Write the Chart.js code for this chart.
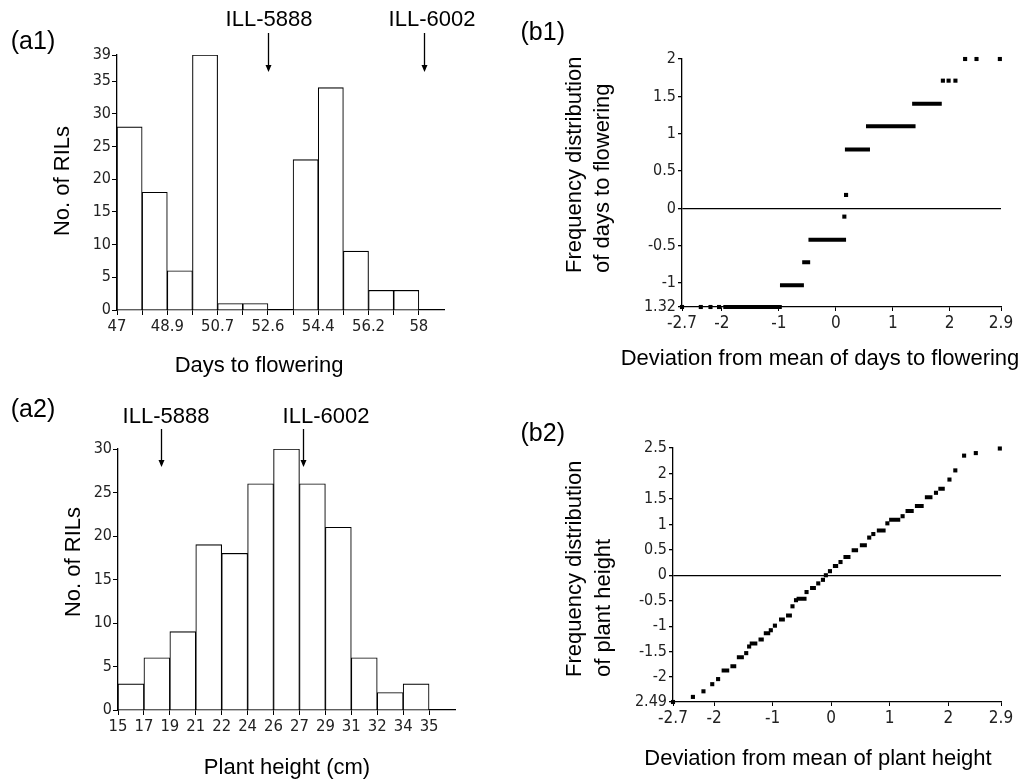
<!DOCTYPE html>
<html>
<head>
<meta charset="utf-8">
<script src="https://cdn.jsdelivr.net/npm/chart.js@4.4.1/dist/chart.umd.min.js"></script>
<style>
  body { margin: 0; background: #fff; }
  .wrap { position: relative; width: 1029px; height: 784px; }
  canvas { position: absolute; }
</style>
</head>
<body>
<div class="wrap">
  <canvas id="a1" width="500" height="390" style="left:0;top:0"></canvas>
  <canvas id="a2" width="500" height="394" style="left:0;top:390px"></canvas>
  <canvas id="b1" width="529" height="390" style="left:500px;top:0"></canvas>
  <canvas id="b2" width="529" height="394" style="left:500px;top:390px"></canvas>
</div>
<script>
// (a1) days to flowering histogram
const flowerCounts = [28, 18, 6, 39, 1, 1, 0, 23, 34, 9, 3, 3];
const flowerTickLabels = ['47', '', '48.9', '', '50.7', '', '52.6', '', '54.4', '', '56.2', '', '58'];
const flowerYTicks = [0, 5, 10, 15, 20, 25, 30, 35, 39];
const flowerParents = [6.0, 12.2]; // ILL-5888, ILL-6002 (bin units)

// (a2) plant height histogram
const heightCounts = [3, 6, 9, 19, 18, 26, 30, 26, 21, 6, 2, 3];
const heightTickLabels = ['15', '17', '19', '21', '22', '24', '26', '27', '29', '31', '32', '34', '35'];
const heightYTicks = [0, 5, 10, 15, 20, 25, 30];
const heightParents = [1.66, 7.15];

// (b1) normal plot, days to flowering
const flowerQXTicks = [-2.7, -2, -1, 0, 1, 2, 2.9];
const flowerQYTicks = [2, 1.5, 1, 0.5, 0, -0.5, -1, -1.32];
const flowerQYLabels = ['2', '1.5', '1', '0.5', '0', '-0.5', '-1', '1.32'];
const flowerRunY  = [-1.32, -1.03, -0.72, -0.42, 0.79, 1.10, 1.40];
const flowerRunX0 = [-1.975, -0.98, -0.59, -0.48, 0.16, 0.53, 1.34];
const flowerRunX1 = [-0.948, -0.56, -0.45, 0.18, 0.60, 1.40, 1.86];
const flowerDotX = [-2.7, -2.37, -2.20, -2.05, 0.15, 0.18, 1.88, 1.98, 2.10, 2.27, 2.47, 2.88];
const flowerDotY = [-1.32, -1.32, -1.32, -1.32, -0.11, 0.18, 1.71, 1.71, 1.71, 2.0, 2.0, 2.0];

// (b2) normal plot, plant height
const heightQXTicks = [-2.7, -2, -1, 0, 1, 2, 2.9];
const heightQYTicks = [2.5, 2, 1.5, 1, 0.5, 0, -0.5, -1, -1.5, -2, -2.49];
const heightQYLabels = ['2.5', '2', '1.5', '1', '0.5', '0', '-0.5', '-1', '-1.5', '-2', '2.49'];
const heightRunY  = [-1.87, -1.79, -1.61, -1.34, -1.26, -1.14, -0.87, -0.79, -0.46, -0.25, 0.18, 0.36, 0.49, 0.59, 0.88, 1.09, 1.26, 1.36, 1.53, 1.70];
const heightRunX0 = [-1.87, -1.72, -1.61, -1.39, -1.24, -1.15, -0.89, -0.77, -0.59, -0.36, 0.03, 0.21, 0.35, 0.49, 0.78, 0.99, 1.27, 1.43, 1.60, 1.83];
const heightRunX1 = [-1.74, -1.62, -1.49, -1.26, -1.15, -1.04, -0.79, -0.67, -0.42, -0.26, 0.12, 0.33, 0.46, 0.61, 0.93, 1.18, 1.41, 1.58, 1.73, 1.94];
const heightDotX = [-2.7, -2.36, -2.18, -2.03, -1.93, -1.45, -1.40, -1.03, -0.96, -0.66, -0.60, -0.42, -0.22, -0.14, -0.09, -0.02, 0.16, 0.65, 0.72, 0.96, 1.22, 1.79, 2.02, 2.12, 2.27, 2.47, 2.88];
const heightDotY = [-2.49, -2.39, -2.28, -2.14, -2.04, -1.53, -1.40, -1.08, -0.99, -0.61, -0.49, -0.33, -0.16, -0.09, 0.0, 0.08, 0.26, 0.74, 0.81, 1.02, 1.16, 1.62, 1.88, 2.06, 2.35, 2.40, 2.49];

const TITLE_FONT = '22px "Liberation Sans", Arial, sans-serif';
const TICK_FAMILY = '"Liberation Sans Narrow", "DejaVu Sans Condensed", sans-serif';

// draws panel letters, axis titles and parent arrows on top of a chart
function overlay(cfg) {
  return {
    id: 'overlay',
    afterDraw(chart) {
      const ctx = chart.ctx;
      ctx.save();
      ctx.fillStyle = '#000';
      ctx.strokeStyle = '#000';
      (cfg.texts || []).forEach(t => {
        ctx.save();
        ctx.font = t.font || TITLE_FONT;
        ctx.textAlign = t.align || 'center';
        ctx.textBaseline = 'middle';
        ctx.translate(t.x, t.y);
        if (t.rotate) ctx.rotate(-Math.PI / 2);
        ctx.fillText(t.text, 0, 0);
        ctx.restore();
      });
      (cfg.arrows || []).forEach(a => {
        const x = Math.round(chart.scales.x.getPixelForValue(a.value)) + 0.5;
        ctx.lineWidth = 1.3;
        ctx.beginPath();
        ctx.moveTo(x, a.y0);
        ctx.lineTo(x, a.y1 - 5);
        ctx.stroke();
        ctx.beginPath();
        ctx.moveTo(x - 3, a.y1 - 7);
        ctx.lineTo(x + 3, a.y1 - 7);
        ctx.lineTo(x, a.y1);
        ctx.closePath();
        ctx.fill();
      });
      ctx.restore();
    }
  };
}

function axisStyle(extra) {
  return Object.assign({
    grid: { drawOnChartArea: false, drawTicks: true, tickLength: 5, tickColor: '#000', tickWidth: 1, offset: false },
    border: { display: true, color: '#000', width: 1.3 }
  }, extra);
}

function histChart(id, counts, tickLabels, yTicks, yMax, area, ov) {
  new Chart(document.getElementById(id), {
    type: 'bar',
    data: {
      datasets: [{
        data: counts.map((v, i) => ({ x: i + 0.5, y: v })),
        backgroundColor: '#fff',
        borderColor: '#000',
        borderWidth: 1.1,
        borderSkipped: 'bottom',
        categoryPercentage: 1,
        barPercentage: 1
      }]
    },
    options: {
      responsive: false,
      animation: false,
      layout: { padding: { top: area.top, right: area.right, left: 0, bottom: 0 } },
      plugins: { legend: { display: false }, tooltip: { enabled: false } },
      scales: {
        x: axisStyle({
          type: 'linear', min: 0, max: 13, offset: false,
          afterBuildTicks: s => { s.ticks = tickLabels.map((_, i) => ({ value: i })); },
          afterFit: s => { s.height = area.xh; },
          ticks: { callback: (v, i) => tickLabels[i], autoSkip: false, maxRotation: 0, padding: 2, color: '#222', font: { family: TICK_FAMILY, size: 16.5 } }
        }),
        y: axisStyle({
          min: 0, max: yMax,
          afterBuildTicks: s => { s.ticks = yTicks.map(v => ({ value: v })); },
          afterFit: s => { s.width = area.left; },
          ticks: { autoSkip: false, padding: 1, color: '#222', font: { family: TICK_FAMILY, size: 16 } }
        })
      }
    },
    plugins: [overlay(ov)]
  });
}

function qqChart(id, runY, runX0, runX1, dotX, dotY, xTicks, yTicks, yLabels, area, ov) {
  const runData = [];
  runY.forEach((y, i) => {
    runData.push({ x: runX0[i], y: y }, { x: runX1[i], y: y }, { x: runX1[i], y: null });
  });
  new Chart(document.getElementById(id), {
    type: 'line',
    data: {
      datasets: [
        { data: runData, borderColor: '#000', borderWidth: 4, borderCapStyle: 'butt', pointRadius: 0, spanGaps: false, clip: false },
        { data: dotX.map((x, i) => ({ x: x, y: dotY[i] })), showLine: false, pointStyle: 'rect', pointRadius: 2.9,
          pointBackgroundColor: '#000', pointBorderWidth: 0, clip: false }
      ]
    },
    options: {
      responsive: false,
      animation: false,
      layout: { padding: { top: area.top, right: area.right, left: 0, bottom: 0 } },
      plugins: { legend: { display: false }, tooltip: { enabled: false } },
      scales: {
        x: axisStyle({
          type: 'linear', min: xTicks[0], max: xTicks[xTicks.length - 1],
          grid: { drawOnChartArea: false, tickLength: 4, tickColor: '#000' },
          afterBuildTicks: s => { s.ticks = xTicks.map(v => ({ value: v })); },
          afterFit: s => { s.height = area.xh; },
          ticks: { callback: (v, i) => String(xTicks[i]), autoSkip: false, maxRotation: 0, padding: 2, color: '#222', font: { family: TICK_FAMILY, size: 17 } }
        }),
        y: axisStyle({
          type: 'linear', min: yTicks[yTicks.length - 1], max: yTicks[0],
          grid: {
            drawOnChartArea: true, tickLength: 4, tickColor: '#000', lineWidth: 1.3,
            color: c => (c.tick && c.tick.value === 0 ? '#000' : 'rgba(0,0,0,0)')
          },
          afterBuildTicks: s => { s.ticks = yTicks.map(v => ({ value: v })); },
          afterFit: s => { s.width = area.left; },
          ticks: { callback: (v, i) => yLabels[i], autoSkip: false, padding: 2, color: '#222', font: { family: TICK_FAMILY, size: 16 } }
        })
      }
    },
    plugins: [overlay(ov)]
  });
}

histChart('a1', flowerCounts, flowerTickLabels, flowerYTicks, 39,
  { left: 117, top: 55, right: 56, xh: 80 },
  {
    texts: [
      { text: '(a1)', x: 33, y: 42, font: '25px "Liberation Sans", Arial, sans-serif' },
      { text: 'No. of RILs', x: 63, y: 181, rotate: true },
      { text: 'Days to flowering', x: 259, y: 366 },
      { text: 'ILL-5888', x: 269, y: 20 },
      { text: 'ILL-6002', x: 432, y: 20 }
    ],
    arrows: flowerParents.map(v => ({ value: v, y0: 33, y1: 72 }))
  });

histChart('a2', heightCounts, heightTickLabels, heightYTicks, 30,
  { left: 118, top: 59, right: 45, xh: 74 },
  {
    texts: [
      { text: '(a2)', x: 33, y: 20, font: '25px "Liberation Sans", Arial, sans-serif' },
      { text: 'No. of RILs', x: 74, y: 172, rotate: true },
      { text: 'Plant height (cm)', x: 287, y: 378 },
      { text: 'ILL-5888', x: 166, y: 27 },
      { text: 'ILL-6002', x: 326, y: 27 }
    ],
    arrows: heightParents.map(v => ({ value: v, y0: 39, y1: 77 }))
  });

qqChart('b1', flowerRunY, flowerRunX0, flowerRunX1, flowerDotX, flowerDotY,
  flowerQXTicks, flowerQYTicks, flowerQYLabels,
  { left: 182, top: 59, right: 28, xh: 83 },
  {
    texts: [
      { text: '(b1)', x: 65, y: 33, align: 'right', font: '25px "Liberation Sans", Arial, sans-serif' },
      { text: 'Frequency distribution', x: 75, y: 273, rotate: true, align: 'left' },
      { text: 'of days to flowering', x: 103, y: 273, rotate: true, align: 'left' },
      { text: 'Deviation from mean of days to flowering', x: 320, y: 359 }
    ]
  });

qqChart('b2', heightRunY, heightRunX0, heightRunX1, heightDotX, heightDotY,
  heightQXTicks, heightQYTicks, heightQYLabels,
  { left: 173, top: 58, right: 28, xh: 82 },
  {
    texts: [
      { text: '(b2)', x: 65, y: 44, align: 'right', font: '25px "Liberation Sans", Arial, sans-serif' },
      { text: 'Frequency distribution', x: 75, y: 287, rotate: true, align: 'left' },
      { text: 'of plant height', x: 104, y: 287, rotate: true, align: 'left' },
      { text: 'Deviation from mean of plant height', x: 318, y: 369 }
    ]
  });
</script>
</body>
</html>
